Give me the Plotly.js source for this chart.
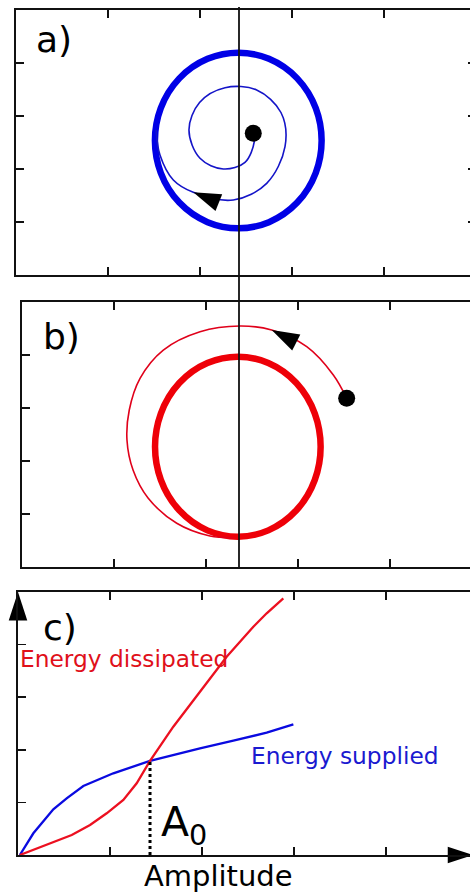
<!DOCTYPE html>
<html><head><meta charset="utf-8">
<script src="https://cdn.plot.ly/plotly-3.0.1.min.js"></script>
<style>html,body{margin:0;padding:0;overflow:hidden;background:#fff}#chart{width:484px;height:892px}</style>
</head><body><div id="chart"></div>
<script>
// ---- Panel a) : trajectory spiralling outwards onto the limit cycle ----
const spiralA_x = [2.579, 2.590, 2.489, 2.253, 2.000, 1.880, 1.995, 2.272, 2.616, 2.880, 2.924, 2.725, 2.362, 1.927, 1.710, 1.565, 1.522];
const spiralA_y = [2.674, 2.515, 2.126, 2.000, 2.202, 2.736, 3.255, 3.534, 3.491, 3.066, 2.421, 1.730, 1.415, 1.560, 1.792, 2.264, 2.736];
const cycleA = [2.416, 2.538, 0.906, 1.657];   // centre x, centre y, radius x, radius y
const arrowA = [1.927, 1.560];

// ---- Panel b) : trajectory spiralling inwards onto the limit cycle ----
const spiralB_x = [3.529, 3.384, 3.095, 2.714, 2.370, 1.935, 1.536, 1.283, 1.166, 1.141, 1.207, 1.370, 1.682, 2.043, 2.297];
const spiralB_y = [3.183, 3.623, 4.157, 4.472, 4.547, 4.440, 4.094, 3.560, 2.962, 2.396, 1.830, 1.302, 0.825, 0.585, 0.553];
const cycleB = [2.346, 2.270, 0.900, 1.698];
const arrowB = [2.714, 4.472];

// ---- Panel c) : energy balance vs amplitude ----
const suppliedAmp = [0.02, 0.167, 0.384, 0.529, 0.710, 1.036, 1.435, 1.978, 2.341, 2.703, 2.993];
const suppliedEnergy = [0.0, 0.413, 0.869, 1.078, 1.312, 1.553, 1.790, 2.029, 2.173, 2.325, 2.485];
const dissipatedAmp = [0.02, 0.312, 0.584, 0.783, 0.964, 1.145, 1.290, 1.435, 1.688, 1.978, 2.268, 2.558, 2.703, 2.884];
const dissipatedEnergy = [0.0, 0.190, 0.380, 0.570, 0.793, 1.046, 1.363, 1.790, 2.439, 3.105, 3.770, 4.340, 4.595, 4.880];
const A0 = [1.435, 1.790];
const tickPos = [1, 2, 3, 4];
const labels = ["a)", "b)", "c)", "Energy dissipated", "Energy supplied", "A<sub>0</sub>", "Amplitude"];

const W = 484, H = 892;
const BLUE = '#0000e6', RED = '#ee0008';

const traces = [
  {x: spiralA_x, y: spiralA_y, xaxis:'x', yaxis:'y', mode:'lines', line:{color:'#1414c8', width:1.6, shape:'spline', smoothing:1, simplify:false}},
  {x: [spiralA_x[0]], y: [spiralA_y[0]], xaxis:'x', yaxis:'y', mode:'markers', marker:{color:'#000', size:17, line:{width:0}}},
  {x: [arrowA[0]], y: [arrowA[1]], xaxis:'x', yaxis:'y', mode:'markers', cliponaxis:false,
   marker:{symbol:'arrow', angle:292, color:'#000', size:29, line:{width:0}}},

  {x: spiralB_x, y: spiralB_y, xaxis:'x2', yaxis:'y2', mode:'lines', line:{color:'#e0001a', width:1.6, shape:'spline', smoothing:1, simplify:false}},
  {x: [spiralB_x[0]], y: [spiralB_y[0]], xaxis:'x2', yaxis:'y2', mode:'markers', marker:{color:'#000', size:17, line:{width:0}}},
  {x: [arrowB[0]], y: [arrowB[1]], xaxis:'x2', yaxis:'y2', mode:'markers', cliponaxis:false,
   marker:{symbol:'arrow', angle:297, color:'#000', size:29, line:{width:0}}},

  {x: suppliedAmp, y: suppliedEnergy, xaxis:'x3', yaxis:'y3', mode:'lines', line:{color:'#0a0ae0', width:2.3}},
  {x: dissipatedAmp, y: dissipatedEnergy, xaxis:'x3', yaxis:'y3', mode:'lines', line:{color:'#ec1020', width:2.3}},
  {x: [A0[0], A0[0]], y: [0, A0[1]], xaxis:'x3', yaxis:'y3', mode:'lines', line:{color:'#000', width:3, dash:'dot'}},
  {x: [0], y: [5.0], xaxis:'x3', yaxis:'y3', mode:'markers', cliponaxis:false,
   marker:{symbol:'arrow', angle:0, color:'#000', size:30, line:{width:0}}},
  {x: [4.95], y: [0], xaxis:'x3', yaxis:'y3', mode:'markers', cliponaxis:false,
   marker:{symbol:'arrow', angle:90, color:'#000', size:27, line:{width:0}}}
];

function ax(domain, extra) {
  return Object.assign({domain: domain, range:[0,5], showgrid:false, zeroline:false, showticklabels:false,
    ticks:'inside', ticklen:8, tickwidth:1.5, tickcolor:'#111', showline:true, linecolor:'#111', linewidth:2,
    mirror:'ticks', tickmode:'array', tickvals: tickPos, fixedrange:true}, extra || {});
}

function ring(c, xr, yr, col) {
  return {type:'circle', xref:xr, yref:yr, layer:'below', x0:c[0]-c[2], x1:c[0]+c[2], y0:c[1]-c[3], y1:c[1]+c[3],
          line:{color:col, width:6.5}};
}

const layout = {
  width: W, height: H, margin:{l:0, r:0, t:0, b:0}, showlegend:false,
  paper_bgcolor:'#fff', plot_bgcolor:'#fff',
  font:{family:'DejaVu Sans', color:'#000'},
  xaxis: ax([16/W, 476/W], {anchor:'y'}),
  yaxis: ax([617/H, 882/H], {anchor:'x'}),
  xaxis2: ax([22/W, 482/W], {anchor:'y2'}),
  yaxis2: ax([325/H, 590/H], {anchor:'x2'}),
  xaxis3: ax([18/W, 478/W], {anchor:'y3'}),
  yaxis3: ax([37/H, 300/H], {anchor:'x3'}),
  shapes: [
    ring(cycleA, 'x', 'y', BLUE),
    ring(cycleB, 'x2', 'y2', RED),
    {type:'line', xref:'paper', yref:'paper', layer:'above', x0:239/W, x1:239/W, y0:(H-567)/H, y1:(H-7)/H,
     line:{color:'#111', width:1.8}}
  ],
  annotations: [
    {text: labels[0], xref:'x', yref:'y', x:0.196, y:4.45, xanchor:'left', yanchor:'middle', showarrow:false, font:{size:36}},
    {text: labels[1], xref:'x2', yref:'y2', x:0.207, y:4.34, xanchor:'left', yanchor:'middle', showarrow:false, font:{size:36}},
    {text: labels[2], xref:'x3', yref:'y3', x:0.25, y:4.325, xanchor:'left', yanchor:'middle', showarrow:false, font:{size:36}},
    {text: labels[3], xref:'x3', yref:'y3', x:0.0, y:3.74, xanchor:'left', yanchor:'middle', showarrow:false, font:{size:23.3, color:'#e0101a'}},
    {text: labels[4], xref:'x3', yref:'y3', x:2.51, y:1.89, xanchor:'left', yanchor:'middle', showarrow:false, font:{size:23.3, color:'#1a1ad0'}},
    {text: labels[5], xref:'x3', yref:'y3', x:1.53, y:0.57, xanchor:'left', yanchor:'middle', showarrow:false, font:{size:41}},
    {text: labels[6], xref:'paper', yref:'paper', x:218/W, y:(H-876)/H, xanchor:'center', yanchor:'middle', showarrow:false, font:{size:29}}
  ]
};

Plotly.newPlot('chart', traces, layout, {staticPlot:true, displayModeBar:false});
</script>
</body></html>
